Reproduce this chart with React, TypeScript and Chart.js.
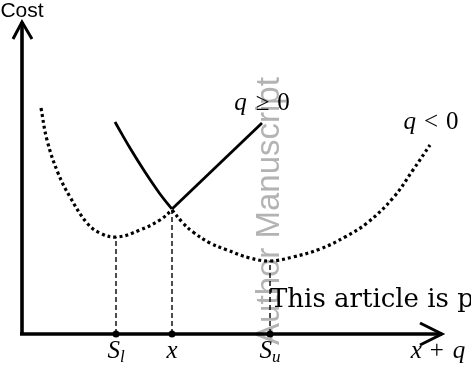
import React, { useEffect, useRef } from "react";
import { Chart, registerables } from "chart.js";

Chart.register(...registerables);

// Diagram units: origin where the axes cross, y grows upward
const dottedLeftX = [19, 25, 36, 48, 65, 78, 95, 118, 138, 150];
const dottedLeftY = [226, 194, 161, 137, 111, 101, 97, 104, 114, 124];
const dottedRightX = [150, 161, 171, 188, 205, 228, 248, 271, 298, 323, 345, 371, 391, 408];
const dottedRightY = [124, 111, 102, 91, 84, 76, 73, 77, 85, 97, 111, 136, 164, 189];
const solidLeftX = [93, 108, 123, 138, 150];
const solidLeftY = [212, 186, 162, 140, 125];
const solidRightX = [150, 240];
const solidRightY = [125, 211];

const tickX = [94, 150, 248];
const tickTop = [97, 124, 73];
const tickMain = ["S", "x", "S"];
const tickSub = ["l", "", "u"];

const xAxisEnd = 420;
const yAxisEnd = 312;
const axisLabelY = "Cost";
const axisLabelX = ["x", "+", "q"];
const curveLabelSolid = ["q", "≥", "0"];
const curveLabelDotted = ["q", "<", "0"];
const watermark = "Author Manuscript";
const footerText = "This article is published";

const pts = (xs: number[], ys: number[]) => xs.map((x, i) => ({ x, y: ys[i] }));

const MATH = "Liberation Serif";
const ORIGIN_PX = { x: 22, y: 334 };

function drawMath(
  ctx: CanvasRenderingContext2D,
  parts: { t: string; italic: boolean; size: number; dy?: number; gap?: number }[],
  cx: number,
  baseline: number
) {
  let total = 0;
  const widths = parts.map((p) => {
    ctx.font = `${p.italic ? "italic " : ""}${p.size}px "${MATH}"`;
    const w = ctx.measureText(p.t).width;
    total += w + (p.gap || 0);
    return w;
  });
  let x = cx - total / 2;
  parts.forEach((p, i) => {
    ctx.font = `${p.italic ? "italic " : ""}${p.size}px "${MATH}"`;
    ctx.fillText(p.t, x, baseline + (p.dy || 0));
    x += widths[i] + (p.gap || 0);
  });
}

const textPlugin = {
  id: "diagramText",
  beforeDatasetsDraw(chart: any) {
    const { ctx, scales } = chart;
    const xs = scales.x;
    const ys = scales.y;
    ctx.save();
    ctx.translate(xs.getPixelForValue(248), ys.getPixelForValue(123));
    ctx.rotate(-Math.PI / 2);
    ctx.font = '33px "Liberation Sans"';
    ctx.fillStyle = "#b3b3b3";
    ctx.textAlign = "center";
    ctx.textBaseline = "middle";
    ctx.fillText(watermark, 0, 0);
    ctx.restore();
  },
  afterDatasetsDraw(chart: any) {
    const { ctx, scales } = chart;
    const xs = scales.x;
    const ys = scales.y;
    ctx.save();
    ctx.fillStyle = "#000";
    ctx.textAlign = "left";
    ctx.textBaseline = "alphabetic";

    ctx.font = '26px "DejaVu Serif"';
    ctx.fillText(footerText, xs.getPixelForValue(248), ys.getPixelForValue(27));

    ctx.font = '21px "Liberation Sans"';
    ctx.textAlign = "center";
    ctx.fillText(axisLabelY, xs.getPixelForValue(0), ys.getPixelForValue(317));
    ctx.textAlign = "left";

    const baseline = ys.getPixelForValue(-24);
    tickX.forEach((tx, i) => {
      const parts: any[] = [{ t: tickMain[i], italic: true, size: 25 }];
      if (tickSub[i]) parts.push({ t: tickSub[i], italic: true, size: 17, dy: 4 });
      drawMath(ctx, parts, xs.getPixelForValue(tx), baseline);
    });

    drawMath(
      ctx,
      [
        { t: axisLabelX[0], italic: true, size: 25, gap: 8 },
        { t: axisLabelX[1], italic: false, size: 25, gap: 9 },
        { t: axisLabelX[2], italic: true, size: 25 },
      ],
      xs.getPixelForValue(416),
      baseline
    );

    drawMath(
      ctx,
      [
        { t: curveLabelSolid[0], italic: true, size: 25, gap: 9 },
        { t: curveLabelSolid[1], italic: false, size: 25, gap: 8 },
        { t: curveLabelSolid[2], italic: false, size: 25 },
      ],
      xs.getPixelForValue(240),
      ys.getPixelForValue(224)
    );
    drawMath(
      ctx,
      [
        { t: curveLabelDotted[0], italic: true, size: 25, gap: 8 },
        { t: curveLabelDotted[1], italic: false, size: 25, gap: 8 },
        { t: curveLabelDotted[2], italic: false, size: 25 },
      ],
      xs.getPixelForValue(409),
      ys.getPixelForValue(205)
    );
    ctx.restore();
  },
};

export default function App() {
  const ref = useRef<HTMLCanvasElement>(null);
  useEffect(() => {
    document.body.style.margin = "0";
    const canvas = ref.current!;
    const dotted = {
      borderColor: "#000",
      borderWidth: 3.2,
      borderDash: [3, 3],
      borderCapStyle: "butt",
      pointRadius: 0,
      pointHoverRadius: 0,
      tension: 0.4,
      fill: false,
    };
    const solid = {
      borderColor: "#000",
      borderWidth: 2.8,
      pointRadius: 0,
      pointHoverRadius: 0,
      tension: 0.4,
      fill: false,
    };
    const plain = {
      borderColor: "#000",
      pointRadius: 0,
      pointHoverRadius: 0,
      tension: 0,
      fill: false,
      borderCapStyle: "butt",
    };
    const tickSets = tickX.map((tx, i) => ({
      ...plain,
      data: [
        { x: tx, y: 0 },
        { x: tx, y: tickTop[i] },
      ],
      borderWidth: 1.4,
      borderDash: [5, 3],
      pointRadius: [3.5, 0],
      pointBackgroundColor: "#000",
      pointBorderWidth: 0,
    }));
    const chart = new Chart(canvas, {
      type: "line",
      data: {
        datasets: [
          { ...dotted, data: pts(dottedLeftX, dottedLeftY) },
          { ...dotted, data: pts(dottedRightX, dottedRightY) },
          { ...solid, data: pts(solidLeftX, solidLeftY) },
          { ...solid, data: pts(solidRightX, solidRightY) },
          ...tickSets,
          { ...plain, borderWidth: 3.6, data: [{ x: 0, y: -1 }, { x: 0, y: yAxisEnd }] },
          { ...plain, borderWidth: 3.4, data: [{ x: -2, y: 0 }, { x: xAxisEnd, y: 0 }] },
          {
            ...plain,
            borderWidth: 3,
            borderJoinStyle: "miter",
            data: [
              { x: -9, y: yAxisEnd - 17 },
              { x: 0, y: yAxisEnd },
              { x: 10, y: yAxisEnd - 17 },
            ],
          },
          {
            ...plain,
            borderWidth: 3,
            borderJoinStyle: "miter",
            data: [
              { x: xAxisEnd - 22, y: 11 },
              { x: xAxisEnd, y: 0 },
              { x: xAxisEnd - 22, y: -11 },
            ],
          },
        ] as any,
      },
      options: {
        animation: false,
        responsive: false,
        maintainAspectRatio: false,
        layout: { padding: 0 },
        scales: {
          x: { type: "linear", min: -22, max: 449, display: false },
          y: { type: "linear", min: -32, max: 334, display: false },
        },
        plugins: { legend: { display: false }, tooltip: { enabled: false }, title: { display: false } },
        events: [],
      } as any,
      plugins: [textPlugin],
    });
    // compensate for the automatic inset so 1 unit = 1 pixel, origin at (22, 334)
    const area = chart.chartArea;
    const W = area.right - area.left;
    const H = area.bottom - area.top;
    const xmin = area.left - ORIGIN_PX.x;
    const ymax = ORIGIN_PX.y - area.top;
    (chart.options.scales as any).x.min = xmin;
    (chart.options.scales as any).x.max = xmin + W;
    (chart.options.scales as any).y.max = ymax;
    (chart.options.scales as any).y.min = ymax - H;
    chart.update();
    return () => chart.destroy();
  }, []);
  return (
    <div style={{ width: 471, height: 366, background: "#fff", overflow: "hidden" }}>
      <canvas ref={ref} width={471} height={366} style={{ display: "block" }} />
    </div>
  );
}
